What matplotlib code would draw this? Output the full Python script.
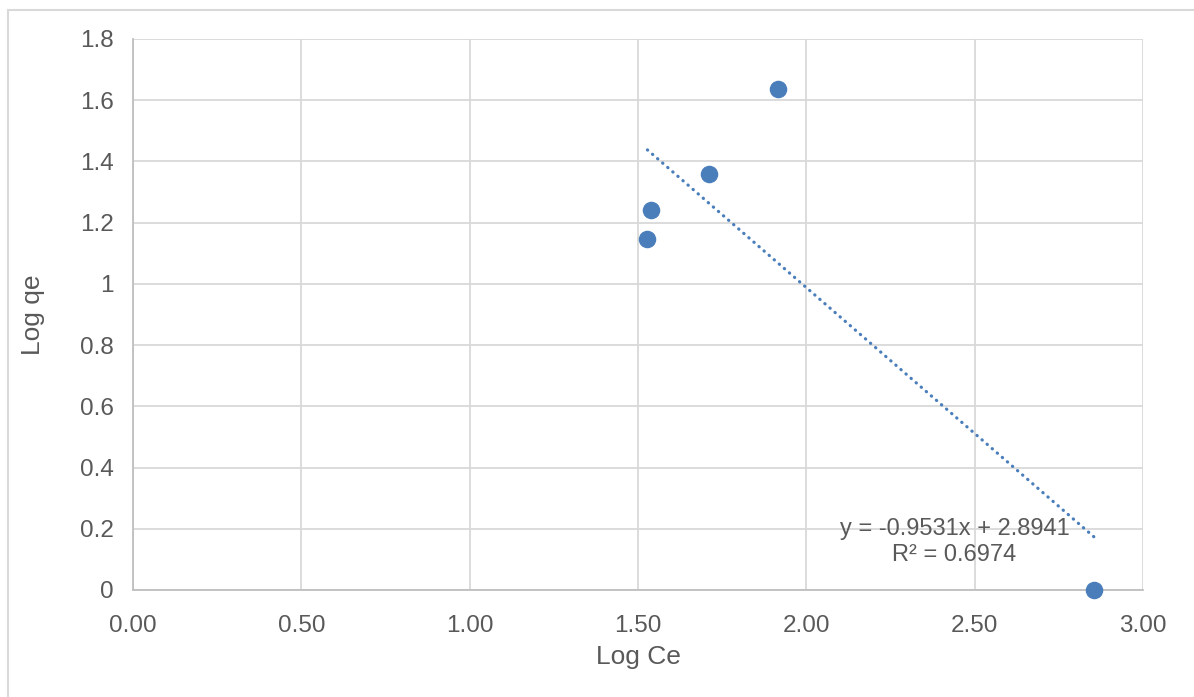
import numpy as np
import matplotlib.pyplot as plt
from matplotlib.patches import Rectangle

log_ce = [1.528, 1.540, 1.710, 1.915, 2.855]
log_qe = [1.146, 1.243, 1.358, 1.638, 0.0]
slope = -0.9531
intercept = 2.8941
r2 = 0.6974

xticks = [0.0, 0.5, 1.0, 1.5, 2.0, 2.5, 3.0]
xtick_labels = ['0.00', '0.50', '1.00', '1.50', '2.00', '2.50', '3.00']
yticks = [0, 0.2, 0.4, 0.6, 0.8, 1.0, 1.2, 1.4, 1.6, 1.8]
ytick_labels = ['0', '0.2', '0.4', '0.6', '0.8', '1', '1.2', '1.4', '1.6', '1.8']

plt.rcParams['font.family'] = ['Liberation Sans', 'DejaVu Sans']
txt = '#595959'
grid = '#d9d9d9'
blue = '#4a7ebb'

fig = plt.figure(figsize=(11.94, 6.97), dpi=100)
fig.patches.append(Rectangle((8 / 1194, -0.1), 1.2, 1 - 10 / 697 + 0.1,
                             transform=fig.transFigure, fill=False,
                             edgecolor='#d9d9d9', lw=1.5))
ax = fig.add_axes([133 / 1194, 107 / 697, 1010 / 1194, 551 / 697])

ax.set_xlim(0, 3)
ax.set_ylim(0, 1.8)
ax.set_xticks(xticks)
ax.set_xticklabels(xtick_labels)
ax.set_yticks(yticks)
ax.set_yticklabels(ytick_labels)
ax.grid(True, color=grid, lw=1.3)
ax.set_axisbelow(True)
for s in ['top', 'right']:
    ax.spines[s].set_visible(False)
for s in ['left', 'bottom']:
    ax.spines[s].set_color('#bfbfbf')
    ax.spines[s].set_linewidth(1.3)
ax.tick_params(length=0, labelsize=17.5, colors=txt)
ax.tick_params(axis='x', pad=18)
ax.tick_params(axis='y', pad=14)

# trendline
tx = np.array([min(log_ce), max(log_ce)])
ax.plot(tx, slope * tx + intercept, color=blue, lw=2.3,
        linestyle=(0, (0.1, 2.0)), dash_capstyle='round', zorder=3)

ax.scatter(log_ce, log_qe, s=135, color=blue, zorder=4, clip_on=False)

ax.text(2.44, 0.158, 'y = %.4fx + %.4f\nR² = %.4f' % (slope, intercept, r2),
        ha='center', va='center', fontsize=17, color=txt, linespacing=1.25)

ax.set_xlabel('Log Ce', fontsize=19, color=txt)
ax.set_ylabel('Log qe', fontsize=19, color=txt)
ax.xaxis.set_label_coords((638 - 133) / 1010, -(657 - 590) / 551)
ax.yaxis.set_label_coords(-(133 - 33) / 1010, (590 - 315) / 551)
ax.xaxis.label.set_va('center')
ax.yaxis.label.set_va('center')

fig.savefig('out.png', dpi=100)
